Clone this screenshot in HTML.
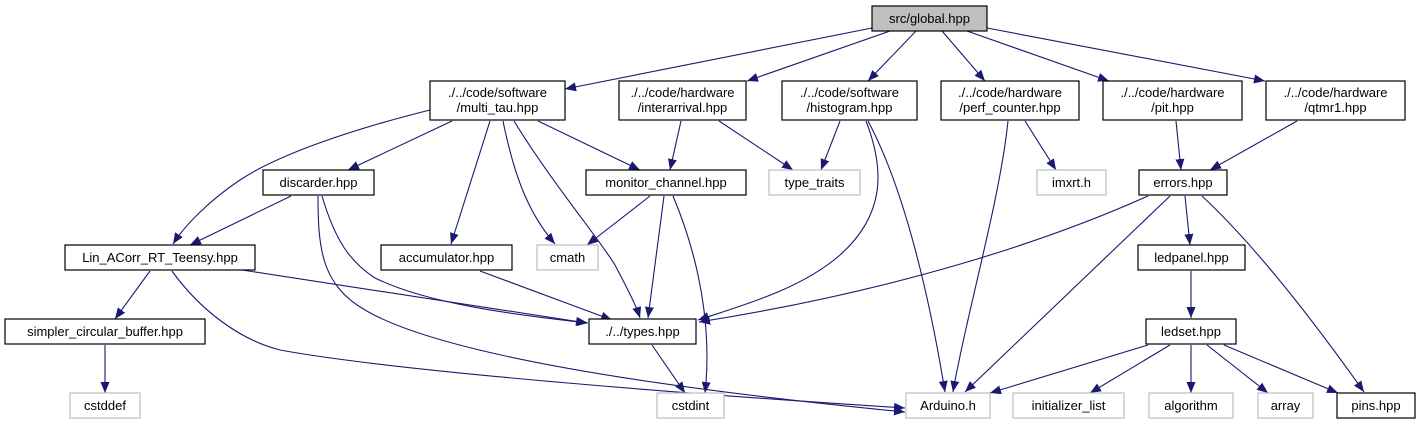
<!DOCTYPE html>
<html><head><meta charset="utf-8"><style>
html,body{margin:0;padding:0;background:#fff;}
svg{display:block}
text{font-family:"Liberation Sans",sans-serif;font-size:13px;fill:#000;text-anchor:middle}
.e{fill:none;stroke:#191970;stroke-width:1.1}
.n{fill:#fff;stroke:#000;stroke-width:1.2}
.g{fill:#fff;stroke:#bfbfbf;stroke-width:1.2}
</style></head><body>
<svg width="1421" height="425" viewBox="0 0 1421 425" xmlns="http://www.w3.org/2000/svg">
<defs><marker id="a" markerUnits="userSpaceOnUse" markerWidth="12" markerHeight="9" refX="11" refY="4.5" orient="auto"><path d="M0,0 L11,4.5 L0,9 z" fill="#191970"/></marker></defs>
<g marker-end="url(#a)">
<path class="e" d="M872,28 L565,89"/>
<path class="e" d="M890,31 L747,81"/>
<path class="e" d="M916,31 L868,81"/>
<path class="e" d="M942,31 L985,81"/>
<path class="e" d="M967,31 L1109,81"/>
<path class="e" d="M987,28 L1265,81"/>
<path class="e" d="M681,121 L670,170"/>
<path class="e" d="M719,121 L793,170"/>
<path class="e" d="M840,121 L821,170"/>
<path class="e" d="M866,121 C885,170 885,215 840,255 C800,290 740,306 698,320"/>
<path class="e" d="M868,121 C905,190 930,300 945,392"/>
<path class="e" d="M1008,121 C1000,200 965,320 953,392"/>
<path class="e" d="M1025,121 L1056,170"/>
<path class="e" d="M1176,121 L1181,170"/>
<path class="e" d="M1297,121 L1210,170"/>
<path class="e" d="M1148,196 C1050,240 900,290 699,322"/>
<path class="e" d="M1170,196 L965,392"/>
<path class="e" d="M1185,196 L1190,245"/>
<path class="e" d="M1202,196 C1260,250 1320,330 1364,392"/>
<path class="e" d="M1191,271 L1191,318"/>
<path class="e" d="M1148,345 L990,393"/>
<path class="e" d="M1170,345 L1090,393"/>
<path class="e" d="M1191,345 L1191,393"/>
<path class="e" d="M1207,345 L1268,393"/>
<path class="e" d="M1224,345 L1338,393"/>
<path class="e" d="M430,110 C330,135 270,160 240,180 C210,200 185,225 173,244"/>
<path class="e" d="M452,121 L348,170"/>
<path class="e" d="M490,121 L451,244"/>
<path class="e" d="M503,121 C515,180 530,215 555,244"/>
<path class="e" d="M514,121 C550,180 600,240 615,265 C628,290 636,305 640,318"/>
<path class="e" d="M538,121 L640,170"/>
<path class="e" d="M650,196 L587,245"/>
<path class="e" d="M664,196 L648,318"/>
<path class="e" d="M673,196 C700,260 712,330 705,393"/>
<path class="e" d="M291,196 L190,245"/>
<path class="e" d="M322,196 C335,240 350,262 375,278 C430,305 520,315 588,323"/>
<path class="e" d="M318,196 C318,250 322,285 365,310 C450,360 700,392 905,412"/>
<path class="e" d="M242,270 L587,323"/>
<path class="e" d="M150,271 L115,319"/>
<path class="e" d="M172,271 C200,310 240,340 280,350 C400,372 700,395 905,408"/>
<path class="e" d="M105,345 L105,393"/>
<path class="e" d="M652,345 L685,393"/>
<path class="e" d="M480,271 L612,320"/>
</g>
<rect x="872" y="6" width="115" height="25" fill="#bfbfbf" stroke="#000" stroke-width="1.2"/><text x="929.5" y="23">src/global.hpp</text>
<rect class="n" x="430" y="81" width="135" height="39"/><text x="497.5" y="97">./../code/software</text><text x="497.5" y="112">/multi_tau.hpp</text>
<rect class="n" x="619" y="81" width="127" height="39"/><text x="682.5" y="97">./../code/hardware</text><text x="682.5" y="112">/interarrival.hpp</text>
<rect class="n" x="782" y="81" width="135" height="39"/><text x="849.5" y="97">./../code/software</text><text x="849.5" y="112">/histogram.hpp</text>
<rect class="n" x="941" y="81" width="138" height="39"/><text x="1010" y="97">./../code/hardware</text><text x="1010" y="112">/perf_counter.hpp</text>
<rect class="n" x="1103" y="81" width="139" height="39"/><text x="1172.5" y="97">./../code/hardware</text><text x="1172.5" y="112">/pit.hpp</text>
<rect class="n" x="1266" y="81" width="139" height="39"/><text x="1335.5" y="97">./../code/hardware</text><text x="1335.5" y="112">/qtmr1.hpp</text>
<rect class="n" x="263" y="170" width="111" height="25"/><text x="318.5" y="187">discarder.hpp</text>
<rect class="n" x="586" y="170" width="160" height="25"/><text x="666" y="187">monitor_channel.hpp</text>
<rect class="g" x="769" y="170" width="91" height="25"/><text x="814.5" y="187">type_traits</text>
<rect class="g" x="1037" y="170" width="69" height="25"/><text x="1071.5" y="187">imxrt.h</text>
<rect class="n" x="1139" y="170" width="88" height="25"/><text x="1183" y="187">errors.hpp</text>
<rect class="n" x="65" y="245" width="190" height="25"/><text x="160" y="262">Lin_ACorr_RT_Teensy.hpp</text>
<rect class="n" x="381" y="245" width="131" height="25"/><text x="446.5" y="262">accumulator.hpp</text>
<rect class="g" x="537" y="245" width="61" height="25"/><text x="567.5" y="262">cmath</text>
<rect class="n" x="1138" y="245" width="107" height="25"/><text x="1191.5" y="262">ledpanel.hpp</text>
<rect class="n" x="5" y="319" width="200" height="25"/><text x="105" y="336">simpler_circular_buffer.hpp</text>
<rect class="n" x="589" y="319" width="107" height="25"/><text x="642.5" y="336">./../types.hpp</text>
<rect class="n" x="1146" y="319" width="90" height="25"/><text x="1191" y="336">ledset.hpp</text>
<rect class="g" x="70" y="393" width="70" height="25"/><text x="105" y="410">cstddef</text>
<rect class="g" x="657" y="393" width="67" height="25"/><text x="690.5" y="410">cstdint</text>
<rect class="g" x="906" y="393" width="84" height="25"/><text x="948" y="410">Arduino.h</text>
<rect class="g" x="1013" y="393" width="111" height="25"/><text x="1068.5" y="410">initializer_list</text>
<rect class="g" x="1149" y="393" width="84" height="25"/><text x="1191" y="410">algorithm</text>
<rect class="g" x="1258" y="393" width="55" height="25"/><text x="1285.5" y="410">array</text>
<rect class="n" x="1337" y="393" width="78" height="25"/><text x="1376" y="410">pins.hpp</text>
</svg>
</body></html>
